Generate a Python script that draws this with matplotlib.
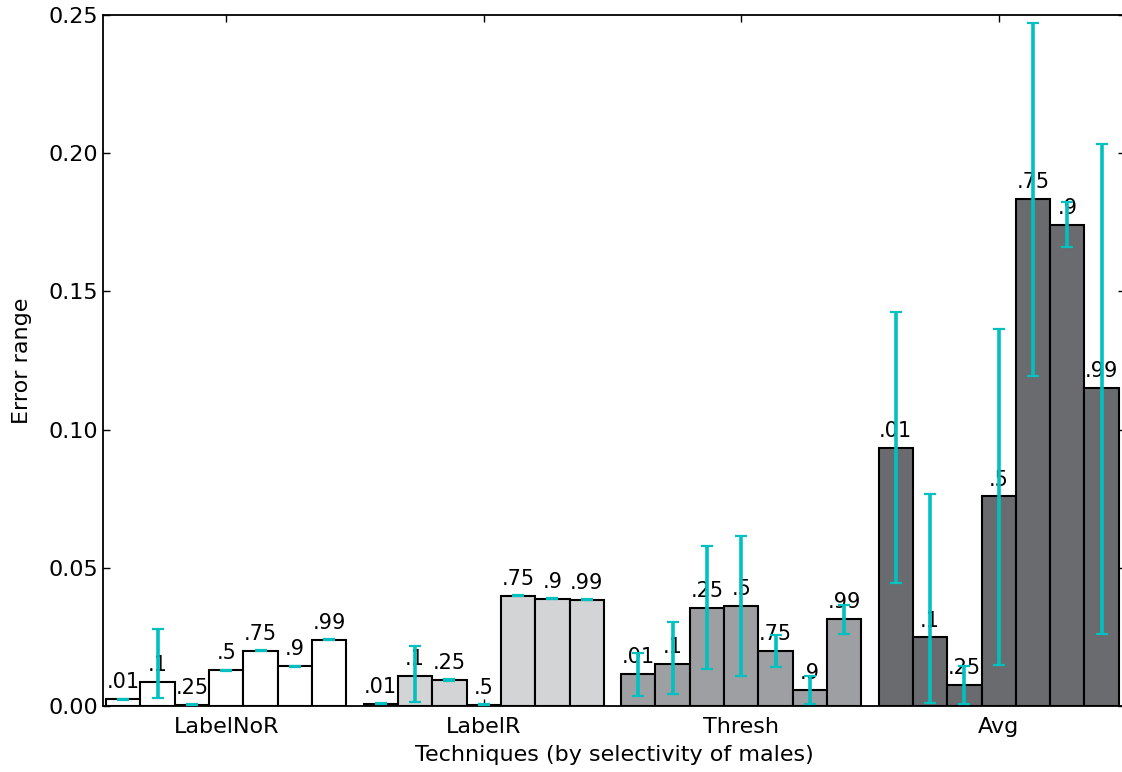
import numpy as np
import matplotlib
matplotlib.use("Agg")
import matplotlib.pyplot as plt

# techniques and selectivity levels
techniques = ["LabelNoR", "LabelR", "Thresh", "Avg"]
levels = [".01", ".1", ".25", ".5", ".75", ".9", ".99"]
colors = ["#ffffff", "#d3d4d6", "#9e9fa2", "#6a6b6f"]

# bar heights per technique
labelnor = [0.0024, 0.0088, 0.0005, 0.0129, 0.0200, 0.0144, 0.0239]
labelr   = [0.0008, 0.0110, 0.0094, 0.0005, 0.0399, 0.0388, 0.0384]
thresh   = [0.0116, 0.0152, 0.0356, 0.0362, 0.0199, 0.0057, 0.0314]
avg      = [0.0934, 0.0248, 0.0075, 0.0758, 0.1835, 0.1742, 0.1149]

# error bar ends (low, high)
labelnor_lo = [0.0024, 0.0028, 0.0005, 0.0129, 0.0200, 0.0144, 0.0239]
labelnor_hi = [0.0024, 0.0279, 0.0005, 0.0129, 0.0200, 0.0144, 0.0239]
labelr_lo   = [0.0008, 0.0014, 0.0094, 0.0005, 0.0399, 0.0388, 0.0384]
labelr_hi   = [0.0008, 0.0218, 0.0094, 0.0005, 0.0399, 0.0388, 0.0384]
thresh_lo   = [0.0037, 0.0042, 0.0133, 0.0107, 0.0140, 0.0006, 0.0260]
thresh_hi   = [0.0193, 0.0303, 0.0579, 0.0616, 0.0258, 0.0109, 0.0366]
avg_lo      = [0.0444, 0.0012, 0.0007, 0.0150, 0.1195, 0.1662, 0.0261]
avg_hi      = [0.1425, 0.0768, 0.0145, 0.1363, 0.2472, 0.1822, 0.2035]

heights = [labelnor, labelr, thresh, avg]
lows = [labelnor_lo, labelr_lo, thresh_lo, avg_lo]
highs = [labelnor_hi, labelr_hi, thresh_hi, avg_hi]

plt.rcParams["font.family"] = ["DejaVu Sans"]

fig = plt.figure(figsize=(11.22, 7.72), dpi=100)
ax = fig.add_axes([103 / 1122, 66 / 772, 1022 / 1122, 691 / 772])

group_gap = 7.5
centers = []
for g, name in enumerate(techniques):
    x0 = g * group_gap
    xs = x0 + np.arange(len(levels))
    h = np.array(heights[g])
    lo = np.array(lows[g])
    hi = np.array(highs[g])
    ax.bar(xs, h, width=1.0, align="edge", color=colors[g],
           edgecolor="black", linewidth=1.5, zorder=2)
    yerr = np.vstack([np.maximum(h - lo, 0.0002), np.maximum(hi - h, 0.0002)])
    ax.errorbar(xs + 0.5, h, yerr=yerr, fmt="none", ecolor="#00c0c0",
                elinewidth=2.6, capsize=4.5, capthick=1.6, zorder=4)
    for x, v, lab in zip(xs, h, levels):
        ax.annotate(lab, (x + 0.5, v), xytext=(0, 5), textcoords="offset points",
                    ha="center", va="bottom", fontsize=15, zorder=3)
    centers.append(x0 + len(levels) / 2)

ax.set_xlim(-0.09, 29.68)
ax.set_ylim(0, 0.25)
ax.set_yticks([0.0, 0.05, 0.10, 0.15, 0.20, 0.25])
ax.set_yticklabels(["0.00", "0.05", "0.10", "0.15", "0.20", "0.25"])
ax.set_xticks(centers)
ax.set_xticklabels(techniques)
ax.tick_params(direction="in", length=5, width=1, top=True, right=True,
               labelsize=16)
ax.tick_params(axis="x", pad=8)
for s in ax.spines.values():
    s.set_linewidth(1.3)

ax.set_xlabel("Techniques (by selectivity of males)", fontsize=16, labelpad=6)
ax.set_ylabel("Error range", fontsize=16, labelpad=12)

fig.savefig("out.png", dpi=100)
